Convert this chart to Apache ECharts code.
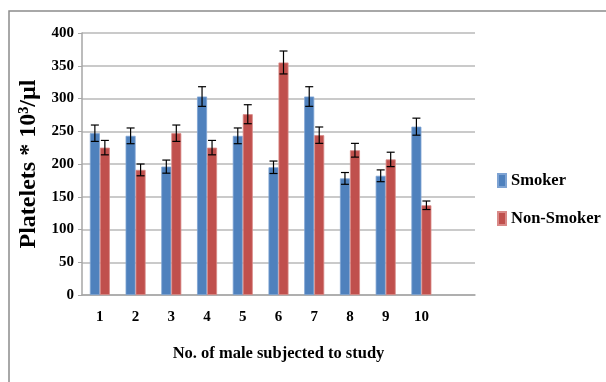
<!DOCTYPE html>
<html>
<head>
<meta charset="utf-8">
<script src="https://cdn.jsdelivr.net/npm/echarts@6/dist/echarts.min.js"></script>
<style>html,body{margin:0;padding:0;background:#fff;}#c{width:606px;height:382px;}</style>
</head>
<body>
<div id="c"></div>
<script>
var categories = ['1','2','3','4','5','6','7','8','9','10',''];
var smoker = [247, 243, 196, 303, 243, 195, 303, 178, 182, 257, null];
var nonSmoker = [225, 191, 247, 225, 276, 355, 244, 221, 207, 137, null];
var smokerErr = [12.5, 12, 10, 15, 12, 9.5, 15, 9, 9, 13, null];
var nonSmokerErr = [11, 9, 12.5, 11, 14.5, 17.5, 12.5, 10.5, 11, 6.5, null];
var yTicks = [0, 50, 100, 150, 200, 250, 300, 350, 400];

var FONT = 'Liberation Serif';
var chart = echarts.init(document.getElementById('c'), null, {renderer: 'canvas'});

function errSeries(vals, errs, dx) {
  return {
    type: 'custom',
    z: 10,
    silent: true,
    data: vals.map(function (v, i) { return v == null ? null : [i, v - errs[i], v + errs[i]]; }).filter(function (d) { return d; }),
    renderItem: function (params, api) {
      var lo = api.coord([api.value(0), api.value(1)]);
      var hi = api.coord([api.value(0), api.value(2)]);
      var x = lo[0] + dx;
      var hw = 4;
      var st = {stroke: '#000', lineWidth: 1.2};
      return {
        type: 'group',
        children: [
          {type: 'line', shape: {x1: x, y1: lo[1], x2: x, y2: hi[1]}, style: st},
          {type: 'line', shape: {x1: x - hw, y1: lo[1], x2: x + hw, y2: lo[1]}, style: st},
          {type: 'line', shape: {x1: x - hw, y1: hi[1], x2: x + hw, y2: hi[1]}, style: st}
        ]
      };
    }
  };
}

chart.setOption({
  animation: false,
  backgroundColor: '#fff',
  graphic: [{
    type: 'rect',
    shape: {x: 9, y: 11, width: 700, height: 500},
    style: {fill: 'none', stroke: '#8c8c8c', lineWidth: 1.5},
    silent: true
  }],
  grid: {left: 82, right: 131, top: 33, bottom: 87, containLabel: false},
  legend: {
    orient: 'vertical',
    left: 492,
    top: 167,
    itemWidth: 8,
    itemHeight: 13,
    itemGap: 21,
    icon: 'rect',
    textStyle: {fontFamily: FONT, fontWeight: 'bold', fontSize: 16.5, color: '#000'},
    data: ['Smoker', 'Non-Smoker']
  },
  xAxis: {
    type: 'category',
    data: categories,
    axisLine: {lineStyle: {color: '#a6a6a6', width: 1.5}},
    axisTick: {show: false},
    axisLabel: {fontFamily: FONT, fontWeight: 'bold', fontSize: 15, color: '#000', margin: 15},
    name: 'No. of male subjected to study',
    nameLocation: 'middle',
    nameGap: 50,
    nameTextStyle: {fontFamily: FONT, fontWeight: 'bold', fontSize: 16.5, color: '#000'}
  },
  yAxis: {
    type: 'value',
    min: 0,
    max: 400,
    interval: 50,
    axisLine: {show: true, lineStyle: {color: '#a6a6a6', width: 1.5}},
    axisTick: {show: true, length: 4, lineStyle: {color: '#a6a6a6'}},
    splitLine: {lineStyle: {color: '#b8b8b8', width: 1.5}},
    axisLabel: {fontFamily: FONT, fontWeight: 'bold', fontSize: 15, color: '#000', margin: 8,
      formatter: function (v) { return yTicks.indexOf(v) >= 0 ? String(v) : ''; }},
    name: 'Platelets * 10³/µl',
    nameLocation: 'middle',
    nameGap: 37,
    nameTextStyle: {fontFamily: FONT, fontWeight: 'bold', fontSize: 24, color: '#000'}
  },
  series: [
    {name: 'Smoker', type: 'bar', data: smoker, barWidth: 10, barGap: '0%',
      itemStyle: {color: '#4f81bd', borderColor: '#7ea3d3', borderWidth: 0.8}},
    {name: 'Non-Smoker', type: 'bar', data: nonSmoker, barWidth: 10, barGap: '0%',
      itemStyle: {color: '#c0504d', borderColor: '#d98a88', borderWidth: 0.8}},
    errSeries(smoker, smokerErr, -5),
    errSeries(nonSmoker, nonSmokerErr, 5)
  ]
});
</script>
</body>
</html>
